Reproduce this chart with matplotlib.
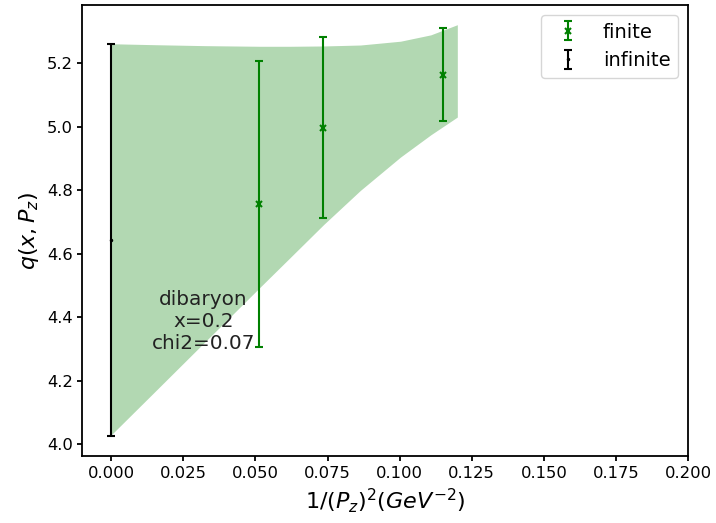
import matplotlib
matplotlib.use("Agg")
import matplotlib.pyplot as plt
import numpy as np

# finite-momentum data
x_fin = [0.0512, 0.0735, 0.115]
y_fin = [4.757, 4.998, 5.165]
e_fin = [0.450, 0.285, 0.147]

# extrapolated (infinite momentum)
x_inf = [0.0]
y_inf = [4.643]
e_inf = [0.618]

# fit band
band_x = [0.0, 0.015, 0.0324, 0.0516, 0.062, 0.0736, 0.0864, 0.1003, 0.1108, 0.12]
band_lo = [4.030, 4.165, 4.322, 4.495, 4.588, 4.692, 4.800, 4.905, 4.975, 5.031]
band_hi = [5.262, 5.259, 5.256, 5.254, 5.254, 5.255, 5.258, 5.270, 5.290, 5.322]

fig = plt.figure(figsize=(7.16, 5.23), dpi=100)
ax = fig.add_axes([0.1152, 0.1281, 0.8457, 0.8623])

ax.fill_between(band_x, band_lo, band_hi, color='green', alpha=0.3, linewidth=0)
ax.errorbar(x_fin, y_fin, yerr=e_fin, fmt='x', color='green', ms=4, mew=1.5,
            capsize=3, elinewidth=1.5, capthick=1.5, label='finite')
ax.errorbar(x_inf, y_inf, yerr=e_inf, fmt='.', color='black', ms=3,
            capsize=3, elinewidth=1.5, capthick=1.5, label='infinite')

ax.text(0.0319, 4.387, 'dibaryon\nx=0.2\nchi2=0.07', ha='center', va='center',
        fontsize=14.4, color='#222222')

ax.set_xlim(-0.01, 0.2)
ax.set_ylim(3.963, 5.384)
ax.set_xticks(np.arange(0, 0.2001, 0.025))
ax.set_yticks([4.0, 4.2, 4.4, 4.6, 4.8, 5.0, 5.2])
ax.tick_params(labelsize=11.75, width=1.3)
ax.set_xlabel(r'$1/(P_z)^2(GeV^{-2})$', fontsize=16)
ax.set_ylabel(r'$q(x,P_z)$', fontsize=16)
for s in ax.spines.values():
    s.set_linewidth(1.3)
ax.legend(loc='upper right', fontsize=14)

fig.savefig('out.png', dpi=100)
